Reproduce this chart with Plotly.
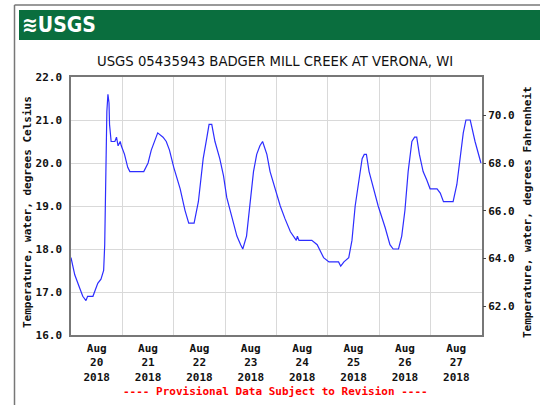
import plotly.graph_objects as go

# ---- data ----
times = [
    "2018-08-20 00:00", "2018-08-20 01:45", "2018-08-20 04:00", "2018-08-20 05:30",
    "2018-08-20 07:00", "2018-08-20 07:45", "2018-08-20 10:15", "2018-08-20 12:30",
    "2018-08-20 14:00", "2018-08-20 15:15", "2018-08-20 15:45", "2018-08-20 16:15",
    "2018-08-20 16:45", "2018-08-20 17:15", "2018-08-20 17:45", "2018-08-20 18:00",
    "2018-08-20 18:45", "2018-08-20 20:30", "2018-08-20 21:15", "2018-08-20 22:00",
    "2018-08-20 23:00", "2018-08-20 23:30", "2018-08-21 01:00", "2018-08-21 02:30",
    "2018-08-21 03:30", "2018-08-21 10:00", "2018-08-21 12:00", "2018-08-21 13:30",
    "2018-08-21 15:00", "2018-08-21 16:30", "2018-08-21 19:00", "2018-08-21 20:30",
    "2018-08-21 22:00", "2018-08-22 00:00", "2018-08-22 03:00", "2018-08-22 05:15",
    "2018-08-22 07:00", "2018-08-22 09:30", "2018-08-22 11:30", "2018-08-22 13:45",
    "2018-08-22 15:30", "2018-08-22 16:30", "2018-08-22 17:45", "2018-08-22 19:15",
    "2018-08-22 21:30", "2018-08-22 23:15", "2018-08-23 00:45", "2018-08-23 03:00",
    "2018-08-23 05:30", "2018-08-23 07:15", "2018-08-23 08:15", "2018-08-23 10:00",
    "2018-08-23 11:30", "2018-08-23 13:15", "2018-08-23 14:45", "2018-08-23 16:15",
    "2018-08-23 17:30", "2018-08-23 19:30", "2018-08-23 21:00", "2018-08-23 23:30",
    "2018-08-24 01:45", "2018-08-24 04:00", "2018-08-24 06:30", "2018-08-24 09:15",
    "2018-08-24 09:45", "2018-08-24 10:30", "2018-08-24 16:30", "2018-08-24 19:00",
    "2018-08-24 22:00", "2018-08-25 00:30", "2018-08-25 05:00", "2018-08-25 06:00",
    "2018-08-25 07:30", "2018-08-25 09:45", "2018-08-25 11:15", "2018-08-25 12:45",
    "2018-08-25 14:30", "2018-08-25 16:00", "2018-08-25 17:00", "2018-08-25 18:00",
    "2018-08-25 19:15", "2018-08-25 21:30", "2018-08-25 23:30", "2018-08-26 02:45",
    "2018-08-26 05:00", "2018-08-26 06:30", "2018-08-26 09:00", "2018-08-26 10:30",
    "2018-08-26 12:00", "2018-08-26 13:30", "2018-08-26 15:15", "2018-08-26 16:30",
    "2018-08-26 17:30", "2018-08-26 18:45", "2018-08-26 20:30", "2018-08-26 22:15",
    "2018-08-26 23:45", "2018-08-27 03:00", "2018-08-27 04:30", "2018-08-27 06:00",
    "2018-08-27 10:30", "2018-08-27 12:15", "2018-08-27 13:45", "2018-08-27 15:15",
    "2018-08-27 16:30", "2018-08-27 18:30", "2018-08-27 20:45", "2018-08-27 22:15",
    "2018-08-27 23:30",
]
temp_c = [
    17.8, 17.4, 17.1, 16.9,
    16.8, 16.9, 16.9, 17.2,
    17.3, 17.5, 18.1, 19.6,
    21.2, 21.6, 21.4, 20.9,
    20.5, 20.5, 20.6, 20.4,
    20.5, 20.4, 20.2, 19.9,
    19.8, 19.8, 20.0, 20.3,
    20.5, 20.7, 20.6, 20.5,
    20.3, 19.9, 19.4, 18.9,
    18.6, 18.6, 19.1, 20.1,
    20.6, 20.9, 20.9, 20.5,
    20.1, 19.7, 19.2, 18.8,
    18.3, 18.1, 18.0, 18.3,
    19.0, 19.8, 20.2, 20.4,
    20.5, 20.2, 19.8, 19.4,
    19.0, 18.7, 18.4, 18.2,
    18.3, 18.2, 18.2, 18.1,
    17.8, 17.7, 17.7, 17.6,
    17.7, 17.8, 18.2, 19.0,
    19.6, 20.1, 20.2, 20.2,
    19.8, 19.4, 19.0, 18.5,
    18.1, 18.0, 18.0, 18.3,
    18.9, 19.8, 20.5, 20.6,
    20.6, 20.2, 19.8, 19.6,
    19.4, 19.4, 19.3, 19.1,
    19.1, 19.5, 20.1, 20.7,
    21.0, 21.0, 20.5, 20.2,
    20.0,
]
day_ticks = ["2018-08-%02d 12:00" % d for d in range(20, 28)]
day_labels = ["Aug<br>%d<br>2018" % d for d in range(20, 28)]
c_ticks = [16.0, 17.0, 18.0, 19.0, 20.0, 21.0, 22.0]
f_ticks = [62.0, 64.0, 66.0, 68.0, 70.0]

# ---- geometry helpers (pixel -> paper) ----
L, R, T, B = 71, 482, 77, 335
def px(x):
    return (x - L) / (R - L)
def py(y):
    return (B - y) / (B - T)

MONO = "DejaVu Sans Mono"
NARROW = "DejaVu Sans Condensed, Liberation Sans Narrow, Liberation Sans"
fig = go.Figure()
fig.add_trace(go.Scatter(x=times, y=temp_c, mode="lines",
                         line=dict(color="rgb(45,45,255)", width=1.2),
                         hoverinfo="x+y", showlegend=False))
# invisible trace for the Fahrenheit axis
fig.add_trace(go.Scatter(x=[times[0]], y=[temp_c[0] * 1.8 + 32], yaxis="y2",
                         mode="markers", marker=dict(opacity=0), showlegend=False,
                         hoverinfo="skip"))

tickfont = dict(family=MONO, size=11, color="#111", weight="bold")
fig.update_layout(
    width=540, height=405,
    margin=dict(l=L, r=540 - R, t=T, b=405 - B),
    paper_bgcolor="white", plot_bgcolor="white",
    xaxis=dict(
        type="date", range=["2018-08-20 00:00", "2018-08-28 00:00"],
        tickvals=day_ticks, ticktext=day_labels, showgrid=False,
        ticks="outside", ticklen=2, tickcolor="white", tickfont=tickfont,
        showline=True, linecolor="#777", linewidth=1.5, mirror=True,
        minor=dict(dtick=86400000, tick0="2018-08-20", showgrid=True,
                   gridcolor="#d9d9d9", gridwidth=1, ticks=""),
        zeroline=False, fixedrange=True,
    ),
    yaxis=dict(
        range=[16, 22], tickvals=c_ticks, tickformat=".1f", tickfont=tickfont,
        showgrid=True, gridcolor="#d9d9d9", gridwidth=1,
        showline=True, linecolor="#777", linewidth=1.5, mirror=True,
        ticks="outside", ticklen=5, tickcolor="white", zeroline=False,
    ),
    yaxis2=dict(
        overlaying="y", side="right", range=[16 * 1.8 + 32, 22 * 1.8 + 32],
        tickvals=f_ticks, tickformat=".1f", showgrid=False, zeroline=False,
        tickfont=tickfont, ticks="outside", ticklen=3, tickcolor="#444",
    ),
    shapes=[
        # outer frame
        dict(type="line", xref="paper", yref="paper", x0=px(14.5), x1=px(14.5),
             y0=py(5), y1=py(410), line=dict(color="#777", width=1.5)),
        dict(type="line", xref="paper", yref="paper", x0=px(14.5), x1=px(545),
             y0=py(5), y1=py(5), line=dict(color="#777", width=1.5)),
        # green banner
        dict(type="rect", xref="paper", yref="paper", x0=px(19), x1=px(545),
             y0=py(40), y1=py(10), fillcolor="rgb(10,110,62)", line=dict(width=0)),
    ],
    annotations=[
        dict(text="<b>≋USGS</b>", xref="paper", yref="paper", x=px(20), y=py(25),
             xanchor="left", yanchor="middle", showarrow=False,
             font=dict(family=NARROW, size=21, color="white")),
        dict(text="USGS 05435943 BADGER MILL CREEK AT VERONA, WI", xref="paper", yref="paper",
             x=px(275), y=py(60), xanchor="center", yanchor="middle", showarrow=False,
             font=dict(family=NARROW, size=14.7, color="#111")),
        dict(text="Temperature, water, degrees Celsius", xref="paper", yref="paper",
             x=px(27), y=py(212), xanchor="center", yanchor="middle", textangle=-90,
             showarrow=False, font=tickfont),
        dict(text="Temperature, water, degrees Fahrenheit", xref="paper", yref="paper",
             x=px(527), y=py(212), xanchor="center", yanchor="middle", textangle=-90,
             showarrow=False, font=tickfont),
        dict(text="---- Provisional Data Subject to Revision ----", xref="paper", yref="paper",
             x=px(275), y=py(391), xanchor="center", yanchor="middle", showarrow=False,
             font=dict(family=MONO, size=11, color="red", weight="bold")),
    ],
)

fig.write_html("out.html", config={"displayModeBar": False},
               post_script="document.body.style.margin='0px';")
